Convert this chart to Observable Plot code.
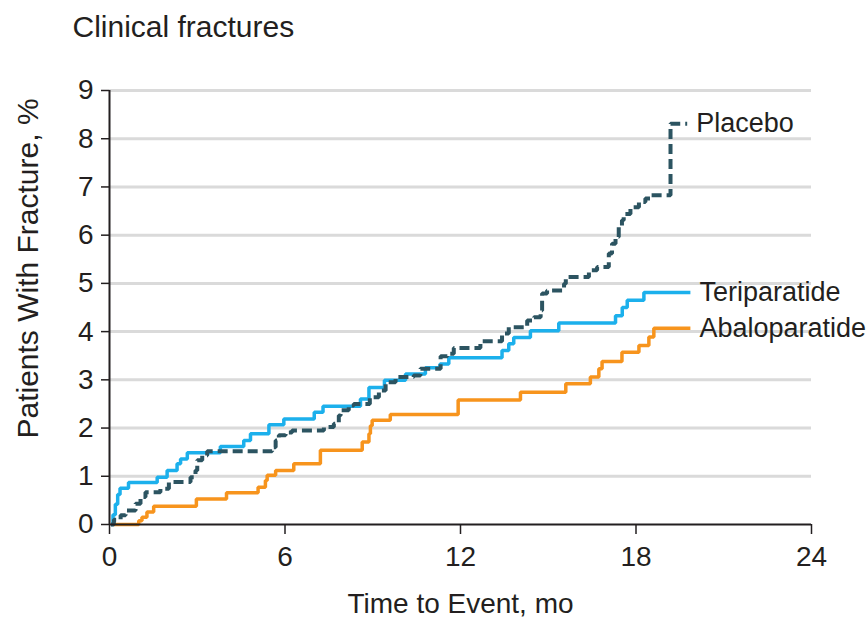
<!DOCTYPE html>
<html>
<head>
<meta charset="utf-8">
<script src="https://cdn.jsdelivr.net/npm/d3@7"></script>
<script src="https://cdn.jsdelivr.net/npm/@observablehq/plot@0.6"></script>
<style>
  body { margin: 0; background: #fff; }
</style>
</head>
<body>
<div id="chart"></div>
<script>
// Cumulative incidence of clinical fractures (Kaplan-Meier style steps)
const titleText = "Clinical fractures";
const xLabel = "Time to Event, mo";
const yLabel = "Patients With Fracture, %";
const xTicks = [0, 6, 12, 18, 24];
const yTicks = [0, 1, 2, 3, 4, 5, 6, 7, 8, 9];

const placeboTime = [0.05, 0.15, 0.38, 0.55, 0.89, 1.06, 1.23, 1.74, 2.03, 2.77, 2.94, 3.0, 3.17, 3.34,
  5.56, 5.68, 5.79, 6.02, 6.24, 7.33, 7.67, 7.84, 7.9, 8.18, 8.35, 8.9, 9.21, 9.44, 9.78, 10.4, 10.63,
  11.32, 11.55, 11.77, 12.68, 13.42, 13.65, 14.28, 14.51, 14.74, 14.79, 14.96, 15.54, 15.6, 16.39, 16.67,
  17.07, 17.18, 17.3, 17.41, 17.52, 17.58, 17.81, 18.1, 18.32, 18.5, 19.18, 19.75];
const placeboPct = [0, 0.1, 0.19, 0.29, 0.43, 0.57, 0.67, 0.74, 0.88, 0.98, 1.12, 1.33, 1.43, 1.52,
  1.6, 1.74, 1.85, 1.91, 1.95, 2.02, 2.09, 2.26, 2.37, 2.47, 2.5, 2.64, 2.78, 2.95, 3.06, 3.09, 3.23,
  3.49, 3.54, 3.66, 3.8, 3.96, 4.09, 4.23, 4.3, 4.44, 4.79, 4.85, 4.99, 5.13, 5.27, 5.34,
  5.62, 5.82, 5.96, 6.17, 6.31, 6.44, 6.58, 6.69, 6.76, 6.83, 8.31, 8.31];

const teriTime = [0.05, 0.12, 0.2, 0.28, 0.36, 0.65, 1.63, 1.97, 2.31, 2.43, 2.66, 3.79, 4.59, 4.82,
  5.45, 5.96, 7.0, 7.3, 8.58, 8.87, 9.4, 10.12, 10.8, 11.3, 11.6, 13.42, 13.65, 13.82, 14.39, 15.36,
  17.3, 17.53, 17.7, 18.27, 19.86];
const teriPct = [0, 0.2, 0.42, 0.62, 0.75, 0.87, 0.98, 1.12, 1.26, 1.36, 1.49, 1.62, 1.74, 1.88,
  2.07, 2.19, 2.33, 2.45, 2.6, 2.84, 2.99, 3.12, 3.25, 3.33, 3.46, 3.61, 3.75, 3.88, 4.02, 4.18,
  4.33, 4.5, 4.65, 4.81, 4.81];

const abaloTime = [0.15, 1.0, 1.11, 1.28, 1.51, 2.97, 4.0, 5.08, 5.33, 5.39, 5.68, 6.3, 7.21, 8.64,
  8.87, 8.92, 8.98, 9.6, 11.92, 14.05, 15.6, 16.44, 16.73, 16.84, 17.52, 18.1, 18.44, 18.61, 19.86];
const abaloPct = [0, 0.08, 0.15, 0.26, 0.38, 0.53, 0.66, 0.77, 0.91, 1.02, 1.12, 1.26, 1.54, 1.71,
  1.88, 2.05, 2.16, 2.28, 2.58, 2.74, 2.92, 3.06, 3.23, 3.38, 3.57, 3.71, 3.89, 4.07, 4.07];

const series = [
  {name: "Abaloparatide", color: "#f7941d", time: abaloTime, pct: abaloPct},
  {name: "Teriparatide", color: "#1cb0ec", time: teriTime, pct: teriPct},
  {name: "Placebo", color: "#2c5461", time: placeboTime, pct: placeboPct}
];
const rows = series.flatMap(s => s.time.map((t, i) => ({name: s.name, t, pct: s.pct[i]})));
const rowsOf = name => rows.filter(d => d.name === name);

const ink = "#231f20";
const font = "'Liberation Sans', Arial, sans-serif";

const stepLine = (s, extra) => Plot.line(rowsOf(s.name), {
  x: "t", y: "pct", curve: "step-after", stroke: s.color,
  strokeLinecap: "butt", strokeLinejoin: "miter", ...extra
});

const chart = Plot.plot({
  width: 866,
  height: 619,
  marginLeft: 109,
  marginRight: 55,
  marginTop: 90,
  marginBottom: 95,
  style: {fontFamily: font, fontSize: "27px", color: ink, background: "#fff", overflow: "visible"},
  x: {domain: [0, 24]},
  y: {domain: [0, 9]},
  marks: [
    Plot.gridY(yTicks.filter(v => v > 0), {stroke: "#dadada", strokeWidth: 3, strokeOpacity: 1}),
    stepLine(series[0], {strokeWidth: 3.5}),
    stepLine(series[1], {strokeWidth: 3.5}),
    stepLine(series[2], {strokeWidth: 4, strokeDasharray: "10,5"}),
    Plot.ruleX([0], {stroke: ink, strokeWidth: 2}),
    Plot.ruleY([0], {stroke: ink, strokeWidth: 2}),
    Plot.axisY(yTicks, {tickSize: 8, tickPadding: 8, stroke: ink, strokeWidth: 1.5, fill: ink, fontSize: 28, label: null}),
    Plot.axisX(xTicks, {tickSize: 10, tickPadding: 12, stroke: ink, strokeWidth: 1.5, fill: ink, fontSize: 28, label: null}),
    Plot.text(rows, Plot.selectLast({x: "t", y: "pct", z: "name", text: "name", dx: 9, textAnchor: "start", fill: ink, fontSize: 27})),
    Plot.text([titleText], {text: d => d, frameAnchor: "top-left", dx: -37, dy: -63, textAnchor: "start", lineAnchor: "middle", fill: ink, fontSize: 30}),
    Plot.text([yLabel], {text: d => d, frameAnchor: "left", dx: -81, dy: -39, rotate: -90, textAnchor: "middle", lineAnchor: "middle", fill: ink, fontSize: 30}),
    Plot.text([xLabel], {text: d => d, frameAnchor: "bottom", dy: 80, textAnchor: "middle", lineAnchor: "middle", fill: ink, fontSize: 28})
  ]
});

document.getElementById("chart").appendChild(chart);
</script>
</body>
</html>
